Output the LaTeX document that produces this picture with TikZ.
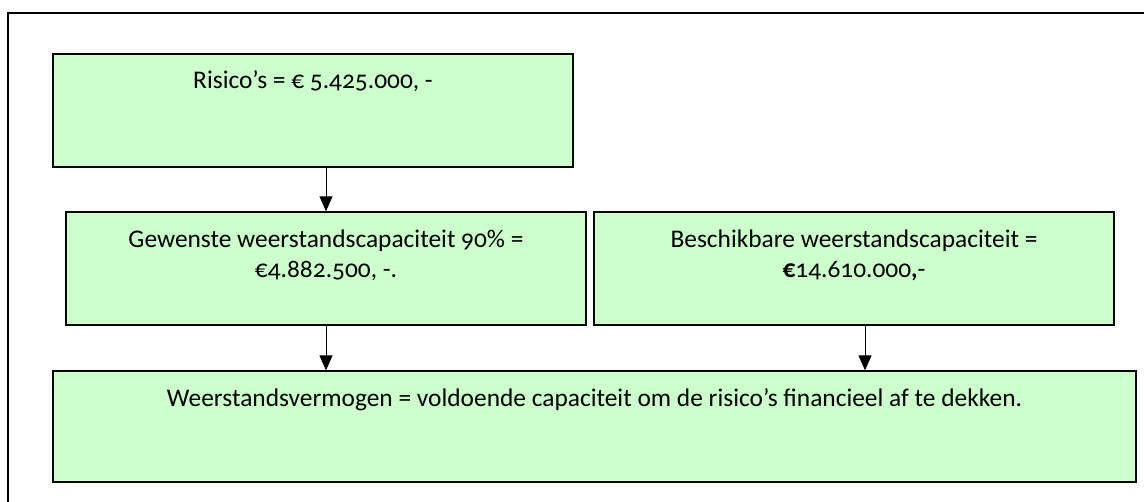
\documentclass[tikz,border=0pt]{standalone}
\usepackage{fontspec}
\setmainfont{Carlito}[Numbers=OldStyle]
\usetikzlibrary{arrows.meta}

\definecolor{lichtgroen}{HTML}{CCFFCC}

\tikzset{
  kader/.style={draw=black, fill=lichtgroen, line width=0.65pt, inner sep=0pt},
  pijl/.style={-{Triangle[length=7.5pt,width=6.5pt]}, line width=0.5pt, black},
}
\newcommand{\vakje}[3]{\parbox[t][#2][t]{#1}{\centering\fontsize{12.7pt}{15pt}\selectfont\rule{0pt}{17.5pt}#3}}

\begin{document}
\begin{tikzpicture}[x=0.5pt, y=-0.5pt]
			\useasboundingbox (0,0) rectangle (1144,502);
			\draw [line width=0.65pt, black] (8,520) -- (8,13) -- (1160,13);

			\node [kader] (r) at (313,110.5) {\vakje{260pt}{56.5pt}{Risico’s = € 5.425.000, -}};
			\node [kader] (g) at (326,268.5) {\vakje{260pt}{56.5pt}{Gewenste weerstandscapaciteit 90\% =\\ €4.882.500, -.}};
			\node [kader] (b) at (854,268.5) {\vakje{260pt}{56.5pt}{Beschikbare weerstandscapaciteit =\\ {\bfseries €}14.610.000{\bfseries ,}-}};
			\node [kader] (w) at (594.5,426.5) {\vakje{541.5pt}{55.5pt}{Weerstandsvermogen = voldoende capaciteit om de risico’s financieel af te dekken.}};

			\coordinate (b1) at ([xshift=5.5pt]b.south);
			\draw [pijl] (r.south -| g.north) -- (g.north);
			\draw [pijl] (g.south) -- (g.south |- w.north);
			\draw [pijl] (b1) -- (b1 |- w.north);
		\end{tikzpicture}
\end{document}
